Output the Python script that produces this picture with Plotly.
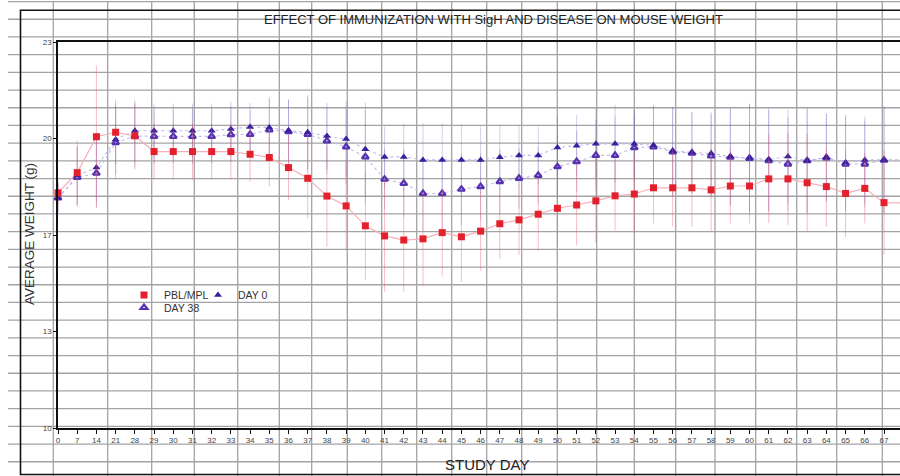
import plotly.graph_objects as go

# ---------------- data ----------------
days = ["0", "7", "14", "21", "28", "29", "30", "31", "32", "33", "34", "35", "36",
        "37", "38", "39", "40", "41", "42", "43", "44", "45", "46", "47", "48", "49",
        "50", "51", "52", "53", "54", "55", "56", "57", "58", "59", "60", "61", "62",
        "63", "64", "65", "66", "67", "68"]

pbl_mpl = [17.92, 18.60, 19.81, 19.96, 19.84, 19.31, 19.31, 19.31, 19.31, 19.31,
           19.22, 19.11, 18.77, 18.41, 17.81, 17.48, 16.81, 16.47, 16.33, 16.37,
           16.58, 16.44, 16.63, 16.88, 17.01, 17.20, 17.40, 17.51, 17.65, 17.82,
           17.88, 18.09, 18.09, 18.09, 18.02, 18.15, 18.15, 18.39, 18.39, 18.26,
           18.13, 17.90, 18.07, 17.59, 17.58]
pbl_mpl_err = [0.40, 1.08, 2.40, 1.10, 1.13, 0.95, 0.95, 0.95, 0.95, 0.95,
               0.92, 0.98, 1.09, 1.35, 1.71, 1.50, 1.83, 1.88, 1.74, 1.58,
               1.48, 1.52, 1.33, 1.19, 1.18, 1.23, 1.27, 1.36, 1.41, 1.16,
               1.31, 1.20, 1.31, 1.31, 1.40, 1.26, 1.26, 1.49, 1.55, 1.65,
               1.35, 1.46, 1.18, 1.76, 1.70]

day0 = [17.75, 18.50, 18.77, 19.72, 20.01, 20.01, 20.01, 20.01, 20.01, 20.07,
        20.14, 20.12, 20.01, 19.96, 19.83, 19.73, 19.39, 19.13, 19.13, 19.03,
        19.03, 19.03, 19.03, 19.12, 19.18, 19.18, 19.45, 19.51, 19.57, 19.57,
        19.57, 19.52, 19.33, 19.28, 19.25, 19.14, 19.10, 19.05, 19.14, 19.00,
        19.12, 18.94, 19.03, 19.03, 19.03]
day38 = [17.75, 18.44, 18.58, 19.61, 19.83, 19.82, 19.82, 19.82, 19.82, 19.88,
         19.89, 20.04, 19.98, 19.89, 19.67, 19.47, 19.13, 18.38, 18.24, 17.90,
         17.90, 18.04, 18.13, 18.30, 18.41, 18.51, 18.80, 18.97, 19.18, 19.18,
         19.44, 19.47, 19.30, 19.26, 19.16, 19.12, 19.08, 19.00, 18.89, 19.00,
         19.10, 18.89, 18.89, 19.02, 19.02]
blue_err = [0.50, 1.00, 1.15, 1.20, 1.05, 0.92, 0.92, 0.92, 0.92, 0.92,
            0.80, 1.04, 1.07, 1.26, 1.11, 1.26, 1.56, 1.02, 1.13, 1.24,
            1.24, 1.20, 1.12, 1.09, 1.02, 0.96, 1.03, 1.03, 1.20, 1.31,
            1.15, 1.37, 1.49, 1.37, 1.40, 1.63, 1.83, 1.72, 1.57, 1.76,
            1.48, 1.61, 1.46, 1.80, 1.80]

y_tickvals = [10, 13.25, 16.5, 19.75, 23]
y_ticktext = ["10", "13", "17", "20", "23"]

# ---------------- layout geometry ----------------
W, H = 900, 476
ML, MR, MT, MB = 58, 0, 42, 48
PW, PH = W - ML - MR, H - MT - MB
idx = list(range(len(days)))


def px_x(px):
    return (px - ML) / PW


def px_y(py):
    return (H - MB - py) / PH


FONT = "Liberation Sans, Arial, sans-serif"
RED = "#e3202c"
BLUE = "#3a1f9e"

fig = go.Figure()

# connecting lines (under the markers)
for ys, col, dash, wid in [(day38, "#c2baee", "dot", 1.1),
                           (day0, "#c2baee", "dot", 1.1),
                           (pbl_mpl, "#f5b0b8", "solid", 1.2)]:
    fig.add_trace(go.Scatter(x=idx, y=ys, mode="lines", showlegend=False,
                             hoverinfo="skip",
                             line=dict(color=col, width=wid, dash=dash)))

fig.add_trace(go.Scatter(
    x=idx, y=day38, name="DAY 38", mode="markers",
    marker=dict(symbol="triangle-up-open", size=6, color="#5530b0",
                line=dict(width=2.2, color="#4a28a8")),
    error_y=dict(type="data", array=blue_err, width=0, thickness=0.7,
                 color="rgba(110,80,180,0.40)"),
    cliponaxis=False, legend="legend3"))

fig.add_trace(go.Scatter(
    x=idx, y=day0, name="DAY 0", mode="markers",
    marker=dict(symbol="triangle-up", size=7, color=BLUE),
    error_y=dict(type="data", array=blue_err, width=0, thickness=0.7,
                 color="rgba(110,80,180,0.40)"),
    cliponaxis=False, legend="legend2"))

fig.add_trace(go.Scatter(
    x=idx, y=pbl_mpl, name="PBL/MPL", mode="markers",
    marker=dict(symbol="square", size=7, color=RED),
    error_y=dict(type="data", array=pbl_mpl_err, width=0, thickness=0.8,
                 color="rgba(230,90,110,0.50)"),
    cliponaxis=False, legend="legend"))

# spreadsheet-style background grid
shapes = []
grid_col = "#a3a3a3"
hy = 1.55
while hy < H:
    shapes.append(dict(type="line", xref="paper", yref="paper",
                       x0=px_x(8), x1=px_x(W + 10), y0=px_y(hy), y1=px_y(hy),
                       line=dict(color=grid_col, width=1.3), layer="below"))
    hy += 17.7
for vx in [53.3, 107.7, 151.7, 194.3, 237.7, 279.3, 311.7, 347.3, 381.7, 416.7,
           451.7, 486.7, 521.7, 557.3, 596.7, 634.3, 675.7, 715, 755.7, 796.7,
           836.7, 882.3]:
    shapes.append(dict(type="line", xref="paper", yref="paper",
                       x0=px_x(vx), x1=px_x(vx), y0=px_y(2), y1=px_y(H + 5),
                       line=dict(color=grid_col, width=1.3), layer="below"))
# outer chart frame
shapes.append(dict(type="rect", xref="paper", yref="paper",
                   x0=px_x(20.5), x1=px_x(W + 20), y0=px_y(10.3), y1=px_y(474.5),
                   line=dict(color="#111", width=1.6), layer="below"))

annotations = [
    dict(text="EFFECT OF IMMUNIZATION WITH SigH AND DISEASE ON MOUSE WEIGHT",
         xref="paper", yref="paper", x=px_x(494), y=px_y(19),
         xanchor="center", yanchor="middle", showarrow=False,
         font=dict(family=FONT, size=13, color="#222")),
    dict(text="AVERAGE WEIGHT (g)", xref="paper", yref="paper",
         x=px_x(29), y=px_y(234), textangle=-90, xanchor="center",
         yanchor="middle", showarrow=False,
         font=dict(family=FONT, size=13.5, color="#333")),
    dict(text="STUDY DAY", xref="paper", yref="paper",
         x=px_x(487), y=px_y(465), xanchor="center", yanchor="middle",
         showarrow=False, font=dict(family=FONT, size=15, color="#222")),
]

LEG = dict(xanchor="left", yanchor="top", bgcolor="rgba(0,0,0,0)",
           font=dict(family=FONT, size=10.5, color="#333"), itemwidth=30)

fig.update_layout(
    width=W, height=H,
    margin=dict(l=ML, r=MR, t=MT, b=MB, pad=0),
    paper_bgcolor="white", plot_bgcolor="rgba(0,0,0,0)",
    shapes=shapes, annotations=annotations,
    font=dict(family=FONT, color="#333"),
    legend=dict(x=px_x(124), y=px_y(280.5), **LEG),
    legend2=dict(x=px_x(198), y=px_y(280.5), **LEG),
    legend3=dict(x=px_x(124), y=px_y(293), **LEG),
    xaxis=dict(range=[0, 43 * PW / 826], tickmode="array", tickvals=idx,
               ticktext=days, showgrid=False, zeroline=False, showline=True,
               linecolor="#111", linewidth=1.6, mirror=True, ticks="outside",
               ticklen=4, tickcolor="#111", tickwidth=1,
               tickfont=dict(family=FONT, size=8, color="#444")),
    yaxis=dict(range=[10, 23], tickmode="array", tickvals=y_tickvals,
               ticktext=y_ticktext, showgrid=False, zeroline=False, showline=True,
               linecolor="#111", linewidth=1.6, ticks="outside", ticklen=3,
               tickcolor="#111", tickfont=dict(family=FONT, size=8, color="#444")),
    showlegend=True,
)

fig.write_html("out.html",
               config={"displayModeBar": False},
               post_script="document.body.style.margin='0';"
                           "document.body.style.overflow='hidden';")
